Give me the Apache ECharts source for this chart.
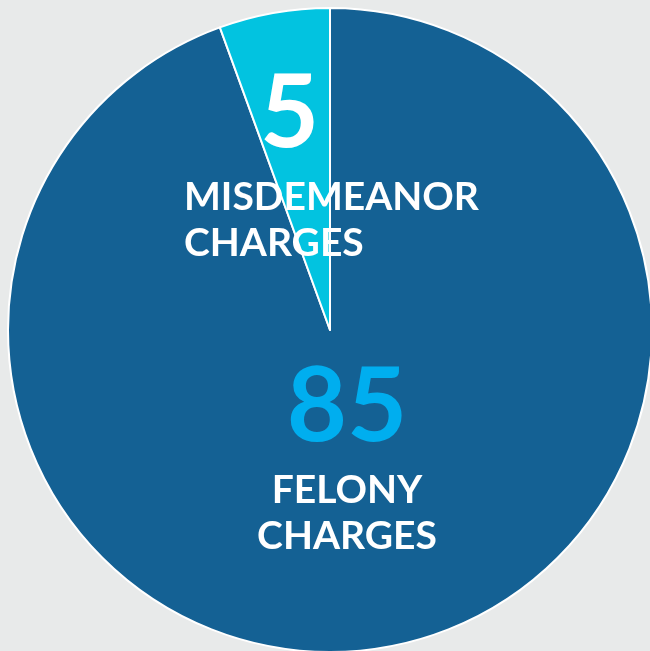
<!DOCTYPE html>
<html>
<head>
<meta charset="utf-8">
<script src="https://cdn.jsdelivr.net/npm/echarts@6/dist/echarts.min.js"></script>
<style>
  html, body { margin: 0; padding: 0; background: #e8eaea; }
  #chart { width: 650px; height: 651px; }
</style>
</head>
<body>
<div id="chart"></div>
<script>
// 数据
const categories = ['FELONY\nCHARGES', 'MISDEMEANOR\nCHARGES']
const values = [85, 5]
const sliceColors = ['#146194', '#02c3e0']

const chart = echarts.init(document.getElementById('chart'))

const option = {
  backgroundColor: '#e8eaea',
  animation: false,
  series: [
    {
      type: 'pie',
      center: [330, 330],
      radius: 322,
      startAngle: 90,
      clockwise: true,
      silent: true,
      itemStyle: {
        borderColor: '#ffffff',
        borderWidth: 2
      },
      label: {
        show: true,
        position: 'inside',
        fontFamily: 'Lato',
        fontWeight: 'bold',
        formatter: function (p) {
          const lines = p.name.split('\n').map(l => '{txt|' + l + '}').join('\n')
          return (p.dataIndex === 0 ? '{big|' : '{small|') + p.value + '}\n' + lines
        },
        rich: {
          big: {
            fontFamily: 'Lato', fontWeight: 'bold', fontSize: 104,
            color: '#00aeef', lineHeight: 120, align: 'center'
          },
          small: {
            fontFamily: 'Lato', fontWeight: 'bold', fontSize: 102,
            color: '#ffffff', lineHeight: 120, align: 'left', padding: [0, 0, 0, 76]
          },
          txt: {
            fontFamily: 'Lato', fontWeight: 'bold', fontSize: 39,
            color: '#ffffff', lineHeight: 46
          }
        }
      },
      labelLine: { show: false },
      labelLayout: function (params) {
        if (params.dataIndex === 0) {
          return { x: 347, y: 453, align: 'center', verticalAlign: 'middle' }
        }
        return { x: 184, y: 160, align: 'left', verticalAlign: 'middle' }
      },
      data: values.map((v, i) => ({
        value: v,
        name: categories[i],
        itemStyle: { color: sliceColors[i] }
      }))
    }
  ]
}

chart.setOption(option)
</script>
</body>
</html>
